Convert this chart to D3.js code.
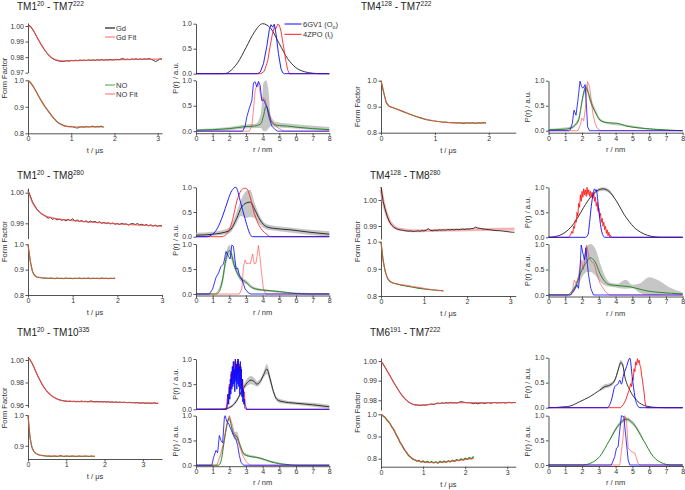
<!DOCTYPE html>
<html><head><meta charset="utf-8">
<script src="https://cdn.jsdelivr.net/npm/d3@7"></script>
<style>body{margin:0;background:#fff}</style>
</head><body><script>
// ---------------- DATA ----------------
const titles = {
  A: ["TM1","20"," - TM7","222"], B: ["TM4","128"," - TM7","222"],
  C: ["TM1","20"," - TM8","280"], D: ["TM4","128"," - TM8","280"],
  E: ["TM1","20"," - TM10","335"], F: ["TM6","191"," - TM7","222"]
};
const ffLegend = ["Gd","Gd Fit","NO","NO Fit"];
const prLegend = [["6GV1 (O","o",")"],["4ZPO (I","i",")"]];
const dt = 0.05; // time step of the DEER traces (µs)

// Panel A  TM1-TM7
const A_gd = [1.0006,1.0001,0.9982,0.9958,0.9932,0.9907,0.9883,0.9860,0.9840,0.9822,0.9806,0.9795,0.9786,0.9780,0.9776,0.9774,0.9772,0.9774,0.9777,0.9775,0.9779,0.9777,0.9780,0.9778,0.9781,0.9779,0.9781,0.9778,0.9782,0.9780,0.9782,0.9779,0.9783,0.9781,0.9784,0.9781,0.9783,0.9782,0.9785,0.9782,0.9784,0.9786,0.9783,0.9788,0.9790,0.9785,0.9787,0.9784,0.9788,0.9786,0.9789,0.9785,0.9788,0.9786,0.9789,0.9787,0.9790,0.9786,0.9780,0.9772,0.9778,0.9789,0.9787];
const A_gdfit = [[0,1.0003],[0.1,0.9982],[0.2,0.9933],[0.3,0.9884],[0.4,0.9841],[0.5,0.9807],[0.6,0.9788],[0.7,0.9779],[0.8,0.9776],[0.9,0.9776],[1.0,0.9777],[1.5,0.9780],[2.0,0.9783],[2.5,0.9785],[3.1,0.9787]];
const A_no = [1.000,0.993,0.982,0.969,0.954,0.939,0.925,0.911,0.899,0.888,0.877,0.866,0.856,0.847,0.840,0.835,0.831,0.828,0.826,0.825,0.826,0.824,0.821,0.820,0.824,0.825,0.823,0.826,0.824,0.825,0.827,0.824,0.826,0.825,0.827,0.823];
const A_nofit = [[0,1.0],[0.1,0.982],[0.2,0.954],[0.3,0.925],[0.4,0.899],[0.5,0.877],[0.6,0.856],[0.7,0.840],[0.8,0.831],[0.9,0.826],[1.0,0.825],[1.2,0.824],[1.75,0.824]];
const A_pr_top_gd = [[0,0],[1.5,0],[1.8,0.005],[2,0.04],[2.5,0.22],[3,0.52],[3.5,0.83],[4,1.0],[4.5,0.9],[5,0.6],[5.5,0.3],[6,0.12],[6.5,0.04],[7,0.01],[7.5,0],[8,0]];
const A_pr_top_blue = [[0,0],[3.7,0],[3.85,0.03],[4.05,0.2],[4.25,0.55],[4.4,0.88],[4.5,0.98],[4.6,0.93],[4.7,0.99],[4.8,0.8],[4.95,0.4],[5.1,0.1],[5.2,0.02],[5.3,0],[8,0]];
const A_pr_top_red = [[0,0],[3.9,0],[4.1,0.05],[4.3,0.25],[4.45,0.55],[4.6,0.82],[4.7,0.93],[4.8,0.9],[4.9,0.99],[5.0,0.97],[5.1,0.85],[5.25,0.55],[5.4,0.25],[5.5,0.08],[5.6,0],[8,0]];
const A_pr_bot_blue = [[0,0],[2.8,0],[2.95,0.1],[3.05,0.28],[3.2,0.45],[3.35,0.6],[3.45,0.95],[3.55,0.97],[3.65,0.87],[3.75,0.98],[3.85,0.9],[3.95,0.6],[4.05,0.62],[4.15,0.55],[4.25,0.48],[4.4,0.25],[4.55,0.1],[4.75,0.03],[4.9,0],[8,0]];
const A_pr_bot_red = [[0,0],[3.2,0],[3.35,0.1],[3.45,0.42],[3.55,0.8],[3.65,0.9],[3.75,0.94],[3.85,0.75],[3.95,0.62],[4.05,0.66],[4.15,0.62],[4.3,0.42],[4.5,0.22],[4.8,0.09],[5.1,0.03],[5.3,0],[8,0]];
const A_pr_bot_green = [[0,0.02],[1,0.03],[2,0.05],[3,0.09],[3.5,0.1],[3.9,0.15],[4.05,0.3],[4.2,0.49],[4.35,0.4],[4.5,0.2],[4.7,0.13],[5,0.11],[5.5,0.1],[6,0.08],[7,0.05],[8,0.03]];
const A_pr_bot_band = [[0,0,0.04],[2,0.02,0.08],[3,0.05,0.13],[3.6,0.06,0.15],[3.9,0.06,0.35],[4.05,0.0,0.95],[4.2,0.0,1.0],[4.35,0.05,0.8],[4.5,0.1,0.3],[4.8,0.08,0.18],[5.5,0.06,0.15],[6.5,0.04,0.12],[8,0.01,0.08]];

// Panel B  TM4-TM7
const B_no = [1.000,0.955,0.915,0.902,0.898,0.894,0.890,0.886,0.882,0.878,0.874,0.870,0.866,0.862,0.859,0.856,0.853,0.850,0.848,0.846,0.845,0.843,0.842,0.840,0.841,0.839,0.838,0.839,0.837,0.838,0.837,0.836,0.838,0.837,0.838,0.836,0.838,0.837,0.839,0.837];
const B_nofit = [[0,1.0],[0.05,0.955],[0.1,0.915],[0.15,0.902],[0.2,0.898],[0.4,0.882],[0.6,0.866],[0.8,0.853],[1.0,0.845],[1.2,0.840],[1.4,0.838],[1.95,0.837]];
const B_pr_blue = [[0,0],[1.2,0],[1.3,0.02],[1.42,0.15],[1.52,0.41],[1.64,0.31],[1.75,0.6],[1.88,0.99],[1.97,0.88],[2.05,0.85],[2.18,0.92],[2.27,0.45],[2.33,0.08],[2.44,0],[8,0]];
const B_pr_red = [[0,0],[1.75,0],[1.88,0.1],[1.99,0.25],[2.1,0.2],[2.2,0.45],[2.33,0.98],[2.45,0.88],[2.55,0.6],[2.64,0.35],[2.78,0.15],[2.9,0.05],[3.08,0],[8,0]];
const B_pr_green = [[0,0.02],[1,0.03],[1.3,0.05],[1.55,0.1],[1.8,0.22],[1.95,0.5],[2.09,0.75],[2.22,0.87],[2.35,0.78],[2.49,0.61],[2.78,0.38],[3.08,0.21],[3.48,0.16],[4.08,0.15],[4.68,0.09],[5.28,0.06],[6.27,0.03],[7.26,0.01],[8,0]];
const B_pr_band = [[0,0,0.04],[1.3,0.03,0.08],[1.8,0.17,0.28],[2.1,0.68,0.82],[2.25,0.8,0.93],[2.5,0.55,0.68],[2.8,0.33,0.43],[3.1,0.18,0.24],[3.5,0.14,0.18],[4.5,0.09,0.13],[6,0.02,0.05],[8,0,0.01]];

// Panel C  TM1-TM8
const C_gd = [1.0008,0.9990,0.9970,0.9958,0.9946,0.9938,0.9931,0.9927,0.9922,0.9917,0.9919,0.9913,0.9916,0.9911,0.9914,0.9910,0.9912,0.9908,0.9913,0.9909,0.9915,0.9907,0.9911,0.9906,0.9909,0.9905,0.9908,0.9903,0.9907,0.9904,0.9906,0.9902,0.9905,0.9900,0.9903,0.9899,0.9902,0.9898,0.9901,0.9897,0.9899,0.9896,0.9900,0.9897,0.9898,0.9894,0.9898,0.9899,0.9896,0.9899,0.9895,0.9897,0.9893,0.9896,0.9892,0.9895,0.9891,0.9894,0.9890,0.9893,0.9891];
const C_gdfit = [[0,1.0005],[0.05,0.9985],[0.1,0.9967],[0.2,0.9945],[0.3,0.9932],[0.4,0.9924],[0.6,0.9916],[0.8,0.9912],[1.0,0.9909],[1.5,0.9903],[2.0,0.9898],[2.5,0.9894],[3.0,0.9891]];
const C_no = [1.000,0.935,0.893,0.877,0.871,0.869,0.868,0.866,0.867,0.865,0.867,0.866,0.864,0.867,0.865,0.866,0.864,0.867,0.865,0.866,0.864,0.866,0.865,0.867,0.864,0.866,0.865,0.867,0.864,0.866,0.865,0.866,0.864,0.867,0.865,0.866,0.864,0.866,0.865,0.867];
const C_nofit = [[0,1.0],[0.05,0.935],[0.1,0.893],[0.15,0.877],[0.2,0.871],[0.3,0.868],[0.5,0.866],[1.95,0.8655]];
const C_pr_top_gd = [[0,0.03],[1,0.05],[2,0.12],[2.44,0.37],[2.74,0.6],[3.0,0.68],[3.24,0.7],[3.54,0.54],[3.84,0.34],[4.24,0.2],[4.64,0.17],[5.64,0.14],[6.84,0.09],[8,0.05]];
const C_pr_top_band = [[0,0,0.08],[1,0.02,0.1],[2,0.07,0.18],[2.4,0.25,0.47],[2.7,0.42,0.75],[3.0,0.38,0.92],[3.25,0.4,0.95],[3.5,0.38,0.7],[3.8,0.26,0.44],[4.2,0.15,0.26],[4.7,0.12,0.22],[5.5,0.09,0.19],[6.5,0.05,0.15],[8,0.0,0.11]];
const C_pr_top_blue = [[0,0],[0.7,0],[0.85,0.02],[1.0,0.05],[1.3,0.18],[1.6,0.42],[1.9,0.72],[2.1,0.9],[2.3,0.99],[2.4,1.0],[2.5,0.93],[2.64,0.74],[2.94,0.37],[3.14,0.14],[3.3,0.02],[3.4,0],[8,0]];
const C_pr_top_red = [[0,0],[1.5,0],[1.8,0.04],[2.0,0.14],[2.2,0.35],[2.45,0.72],[2.7,0.93],[2.9,0.98],[3.05,0.97],[3.25,0.8],[3.5,0.47],[3.8,0.22],[4.2,0.06],[4.5,0],[8,0]];
const C_pr_bot_blue = [[0,0],[0.8,0],[1.0,0.1],[1.2,0.33],[1.35,0.42],[1.5,0.55],[1.65,0.6],[1.8,0.85],[1.95,0.75],[2.05,0.7],[2.15,0.98],[2.25,0.95],[2.4,0.5],[2.5,0.52],[2.6,0.38],[2.75,0.3],[2.95,0.1],[3.15,0.02],[3.3,0],[8,0]];
const C_pr_bot_red = [[0,0],[2.6,0],[2.75,0.1],[2.85,0.55],[2.95,0.68],[3.05,0.6],[3.15,0.62],[3.25,0.6],[3.4,0.8],[3.5,0.6],[3.6,0.62],[3.75,0.97],[3.85,0.7],[3.95,0.38],[4.05,0.1],[4.2,0],[8,0]];
const C_pr_bot_green = [[0,0],[1.2,0],[1.4,0.05],[1.6,0.3],[1.8,0.7],[2.0,0.87],[2.1,0.82],[2.3,0.56],[2.5,0.4],[2.7,0.3],[2.95,0.25],[3.25,0.15],[3.6,0.1],[4.0,0.08],[5.0,0.05],[6.0,0.01],[7,0],[8,0]];
const C_pr_bot_band = [[1.2,0,0.02],[1.6,0.2,0.38],[1.8,0.58,0.82],[2.0,0.78,0.98],[2.2,0.6,0.8],[2.4,0.42,0.6],[2.7,0.25,0.35],[3.0,0.2,0.28],[3.5,0.08,0.14],[4.5,0.04,0.08],[6,0,0.03],[8,0,0.01]];

// Panel D  TM4-TM8
const D_gd = [1.0050,0.9995,0.9962,0.9935,0.9915,0.9903,0.9895,0.9890,0.9887,0.9885,0.9884,0.9882,0.9881,0.9880,0.9881,0.9879,0.9880,0.9881,0.9880,0.9882,0.9881,0.9884,0.9890,0.9883,0.9882,0.9884,0.9883,0.9885,0.9884,0.9885,0.9884,0.9886,0.9885,0.9886,0.9885,0.9887,0.9886,0.9887,0.9888,0.9887,0.9889,0.9888,0.9890,0.9891,0.9896,0.9892,0.9891,0.9889,0.9888,0.9887,0.9886,0.9885,0.9884,0.9883,0.9882,0.9882,0.9881,0.9880,0.9879,0.9878,0.9877,0.9876,0.9876];
const D_gdfit = [[0,1.004],[0.05,0.9995],[0.1,0.9962],[0.15,0.9937],[0.2,0.9918],[0.3,0.9898],[0.4,0.9889],[0.6,0.9884],[0.8,0.9882],[1.2,0.9883],[1.8,0.9885],[2.4,0.9887],[3.1,0.9888]];
const D_no = [1.000,0.930,0.890,0.866,0.855,0.850,0.847,0.845,0.843,0.841,0.839,0.838,0.836,0.835,0.833,0.832,0.831,0.829,0.828,0.827,0.826,0.825,0.824,0.823,0.822,0.822,0.821,0.820,0.820,0.819];
const D_nofit = [[0,1.0],[0.05,0.93],[0.1,0.89],[0.15,0.866],[0.2,0.855],[0.3,0.847],[0.5,0.841],[0.7,0.836],[1.0,0.828],[1.2,0.823],[1.45,0.819]];
const D_pr_top_gd = [[0,0],[0.3,0.01],[0.8,0.06],[1.3,0.19],[1.7,0.37],[2.1,0.6],[2.5,0.8],[2.9,0.93],[3.25,0.97],[3.6,0.92],[3.9,0.8],[4.2,0.64],[4.5,0.46],[4.8,0.32],[5.1,0.2],[5.5,0.1],[5.9,0.04],[6.3,0.01],[6.8,0],[8,0]];
const D_pr_top_band = [[2.5,0.78,0.82],[2.9,0.9,0.97],[3.25,0.93,1.0],[3.6,0.89,0.96],[3.9,0.78,0.82]];
const D_pr_top_red = [[0,0],[1.2,0],[1.3,0.04],[1.4,0.12],[1.45,0.08],[1.5,0.22],[1.55,0.18],[1.6,0.35],[1.65,0.3],[1.7,0.5],[1.75,0.42],[1.8,0.68],[1.85,0.6],[1.9,0.85],[1.95,0.72],[2.0,0.92],[2.05,0.8],[2.1,0.97],[2.15,0.85],[2.2,0.95],[2.25,0.82],[2.3,1.0],[2.35,0.86],[2.4,0.95],[2.45,0.82],[2.5,0.92],[2.55,0.8],[2.6,0.9],[2.65,0.78],[2.7,0.88],[2.75,0.72],[2.8,0.8],[2.85,0.62],[2.9,0.7],[2.95,0.52],[3.0,0.58],[3.05,0.42],[3.1,0.48],[3.15,0.3],[3.2,0.38],[3.25,0.22],[3.3,0.3],[3.35,0.15],[3.4,0.22],[3.45,0.08],[3.5,0.15],[3.55,0.03],[3.6,0.1],[3.65,0.01],[3.7,0.04],[3.75,0],[8,0]];
const D_pr_top_blue = [[0,0],[2.2,0],[2.35,0.05],[2.45,0.3],[2.55,0.62],[2.65,0.85],[2.75,0.97],[2.8,0.93],[2.85,0.95],[2.95,0.7],[3.05,0.38],[3.15,0.15],[3.25,0.04],[3.35,0],[8,0]];
const D_pr_bot_blue = [[0,0],[1.3,0],[1.45,0.05],[1.59,0.13],[1.69,0.2],[1.79,0.13],[1.88,0.5],[1.95,0.98],[2.05,0.82],[2.15,0.69],[2.23,0.93],[2.32,0.6],[2.39,0.39],[2.52,0.13],[2.68,0],[8,0]];
const D_pr_bot_red = [[0,0],[1.35,0],[1.45,0.12],[1.53,0.29],[1.65,0.22],[1.79,0.36],[1.93,0.69],[2.08,0.5],[2.2,0.75],[2.28,0.98],[2.42,0.72],[2.58,0.65],[2.72,0.62],[2.88,0.42],[3.07,0.23],[3.37,0.07],[3.63,0],[8,0]];
const D_pr_bot_green = [[0,0],[1.1,0],[1.29,0.03],[1.69,0.23],[1.99,0.49],[2.28,0.65],[2.48,0.73],[2.78,0.65],[3.07,0.42],[3.37,0.26],[3.67,0.2],[4.27,0.18],[4.86,0.16],[5.26,0.13],[5.86,0.08],[6.66,0.05],[8,0.02]];
const D_pr_bot_band = [[1.3,0.0,0.05],[1.7,0.15,0.3],[2.0,0.35,0.65],[2.3,0.45,0.95],[2.5,0.45,1.0],[2.8,0.38,0.9],[3.1,0.25,0.6],[3.4,0.18,0.35],[3.7,0.16,0.24],[4.1,0.14,0.22],[4.6,0.12,0.3],[5.0,0.13,0.2],[5.4,0.05,0.22],[6.0,0.0,0.35],[6.6,0.0,0.28],[7.2,0.02,0.15],[8,0.0,0.05]];

// Panel E  TM1-TM10
const E_gd = [1.0025,1.0005,0.9975,0.9940,0.9900,0.9862,0.9828,0.9795,0.9766,0.9741,0.9720,0.9702,0.9687,0.9674,0.9664,0.9655,0.9648,0.9643,0.9639,0.9636,0.9634,0.9631,0.9634,0.9630,0.9633,0.9629,0.9632,0.9630,0.9635,0.9631,0.9633,0.9629,0.9632,0.9636,0.9631,0.9629,0.9632,0.9628,0.9631,0.9627,0.9630,0.9626,0.9629,0.9625,0.9628,0.9624,0.9627,0.9623,0.9626,0.9622,0.9625,0.9623,0.9621,0.9624,0.9620,0.9622,0.9619,0.9621,0.9618,0.9617,0.9620,0.9616,0.9615,0.9618,0.9614,0.9616,0.9620,0.9613,0.9615];
const E_gdfit = [[0,1.002],[0.1,0.9975],[0.2,0.990],[0.3,0.9828],[0.4,0.9766],[0.5,0.972],[0.6,0.9687],[0.7,0.9664],[0.8,0.9648],[0.9,0.9639],[1.0,0.9634],[1.5,0.963],[2.0,0.9627],[2.5,0.9622],[3.0,0.9618],[3.4,0.9616]];
const E_no = [1.000,0.930,0.896,0.882,0.876,0.872,0.870,0.869,0.868,0.867,0.866,0.867,0.865,0.866,0.867,0.865,0.866,0.868,0.866,0.865,0.867,0.866,0.865,0.867,0.866,0.865,0.866,0.867,0.865,0.866,0.867,0.866,0.865,0.867,0.866,0.866];
const E_nofit = [[0,1.0],[0.05,0.93],[0.1,0.896],[0.15,0.882],[0.2,0.876],[0.3,0.87],[0.5,0.867],[1.75,0.866]];
const E_pr_top_gd = [[0,0],[1.5,0.0],[1.8,0.01],[2.1,0.05],[2.4,0.15],[2.7,0.33],[3.0,0.5],[3.3,0.58],[3.5,0.55],[3.65,0.5],[3.85,0.55],[4.05,0.68],[4.25,0.8],[4.45,0.6],[4.65,0.35],[4.85,0.2],[5.1,0.16],[6,0.12],[7,0.09],[8,0.05]];
const E_pr_top_band = [[0,0,0.01],[1.5,0,0.02],[2.1,0.03,0.08],[2.4,0.12,0.19],[2.7,0.29,0.38],[3.0,0.44,0.58],[3.3,0.5,0.66],[3.5,0.48,0.62],[3.65,0.45,0.56],[3.85,0.5,0.6],[4.05,0.62,0.74],[4.25,0.7,0.9],[4.45,0.52,0.68],[4.65,0.3,0.4],[4.85,0.16,0.24],[5.1,0.12,0.2],[6,0.09,0.15],[7,0.05,0.13],[8,0.01,0.09]];
const E_pr_top_red = [[0,0],[1.8,0],[1.85,0.1],[1.9,0.3],[1.95,0.2],[2.0,0.5],[2.05,0.35],[2.1,0.7],[2.15,0.5],[2.2,0.85],[2.25,0.6],[2.3,0.95],[2.35,0.65],[2.4,0.9],[2.45,0.6],[2.5,1.0],[2.55,0.7],[2.6,0.9],[2.65,0.55],[2.7,0.85],[2.75,0.45],[2.8,0.6],[2.85,0.3],[2.9,0.35],[2.95,0.1],[3.0,0.05],[3.05,0],[8,0]];
const E_pr_top_blue = [[0,0],[1.85,0],[1.9,0.15],[1.93,0.3],[1.96,0.1],[2.0,0.45],[2.03,0.2],[2.06,0.6],[2.09,0.3],[2.12,0.75],[2.15,0.4],[2.18,0.85],[2.21,0.45],[2.24,0.95],[2.27,0.5],[2.3,0.8],[2.33,0.35],[2.36,1.0],[2.39,0.55],[2.42,0.9],[2.45,0.4],[2.48,0.95],[2.51,0.5],[2.54,1.0],[2.57,0.45],[2.6,0.85],[2.63,0.3],[2.66,0.95],[2.69,0.4],[2.72,0.8],[2.75,0.25],[2.78,0.6],[2.81,0.15],[2.84,0.4],[2.87,0.1],[2.9,0.2],[2.94,0.02],[3.0,0],[8,0]];
const E_pr_bot_blue = [[0,0],[0.95,0],[1.05,0.15],[1.2,0.3],[1.3,0.25],[1.4,0.6],[1.5,0.5],[1.6,0.45],[1.7,0.95],[1.75,1.0],[1.85,0.88],[1.95,0.85],[2.1,0.72],[2.25,0.6],[2.4,0.52],[2.5,0.4],[2.6,0.2],[2.7,0.06],[2.85,0],[8,0]];
const E_pr_bot_red = [[0,0],[1.25,0],[1.45,0.2],[1.65,0.45],[1.85,0.85],[2.0,1.0],[2.15,0.85],[2.3,0.65],[2.45,0.58],[2.6,0.4],[2.8,0.2],[3.0,0.08],[3.2,0.01],[3.3,0],[8,0]];
const E_pr_bot_green = [[0,0],[1.35,0],[1.5,0.08],[1.7,0.5],[1.85,0.8],[2.0,0.95],[2.15,0.75],[2.3,0.6],[2.45,0.58],[2.65,0.4],[2.9,0.22],[3.2,0.18],[3.6,0.16],[3.9,0.14],[4.4,0.08],[5.0,0.03],[5.6,0.01],[6,0],[8,0]];
const E_pr_bot_band = [[1.35,0,0.01],[1.7,0.45,0.55],[2.0,0.9,1.0],[2.15,0.7,0.8],[2.3,0.52,0.66],[2.45,0.5,0.68],[2.65,0.35,0.45],[2.9,0.19,0.25],[3.6,0.14,0.18],[4.4,0.06,0.1],[5.6,0,0.02]];

// Panel F  TM6-TM7
const F_gd = [1.0000,0.9985,0.9967,0.9948,0.9930,0.9911,0.9892,0.9874,0.9856,0.9840,0.9825,0.9812,0.9801,0.9792,0.9785,0.9780,0.9777,0.9776,0.9775,0.9774,0.9776,0.9775,0.9777,0.9779,0.9781,0.9778,0.9783,0.9786,0.9784,0.9787,0.9785,0.9788,0.9786,0.9789,0.9787,0.9788,0.9786,0.9790,0.9793,0.9791,0.9789,0.9787,0.9788,0.9785,0.9783,0.9786,0.9782,0.9785,0.9787,0.9784,0.9786,0.9788,0.9785,0.9787,0.9789,0.9786,0.9788,0.9787,0.9789,0.9786,0.9788,0.9790,0.9787,0.9789,0.9788];
const F_gdfit = [[0,1.0],[0.1,0.9967],[0.2,0.993],[0.3,0.9892],[0.4,0.9856],[0.5,0.9825],[0.6,0.9801],[0.7,0.9785],[0.8,0.9777],[0.9,0.9775],[1.0,0.9776],[1.2,0.978],[1.5,0.9785],[2.0,0.9788],[3.2,0.9788]];
const F_no = [1.000,0.992,0.985,0.972,0.962,0.945,0.932,0.912,0.895,0.874,0.860,0.842,0.830,0.815,0.808,0.798,0.795,0.789,0.792,0.785,0.790,0.783,0.788,0.782,0.787,0.781,0.786,0.780,0.788,0.783,0.789,0.784,0.791,0.786,0.793,0.788,0.796,0.791,0.799,0.794,0.802,0.797,0.805,0.800,0.810];
const F_nofit = [[0,1.0],[0.1,0.985],[0.2,0.962],[0.3,0.932],[0.4,0.895],[0.5,0.86],[0.6,0.83],[0.7,0.808],[0.8,0.795],[0.9,0.788],[1.0,0.785],[1.2,0.783],[1.4,0.784],[1.6,0.787],[1.8,0.791],[2.0,0.796],[2.2,0.80]];
const F_pr_top_gd = [[0,0],[0.5,0.005],[1.0,0.02],[1.26,0.03],[1.86,0.12],[2.46,0.22],[3.05,0.35],[3.35,0.42],[3.65,0.45],[3.95,0.55],[4.15,0.75],[4.3,0.9],[4.4,0.88],[4.55,0.62],[4.85,0.35],[5.25,0.15],[5.85,0.03],[6.45,0.005],[7,0],[8,0]];
const F_pr_top_band = [[3.05,0.32,0.38],[3.35,0.38,0.47],[3.65,0.41,0.49],[3.95,0.51,0.58],[4.15,0.7,0.8],[4.3,0.85,0.96],[4.4,0.83,0.93],[4.55,0.58,0.66]];
const F_pr_top_blue = [[0,0],[3.5,0],[3.75,0.15],[3.95,0.42],[4.15,0.48],[4.25,0.55],[4.35,0.47],[4.45,0.62],[4.65,0.82],[4.85,0.99],[4.99,0.62],[5.15,0.22],[5.35,0.02],[5.45,0],[8,0]];
const F_pr_top_red = [[0,0],[4.3,0],[4.45,0.06],[4.6,0.15],[4.7,0.25],[4.8,0.35],[4.9,0.48],[4.95,0.42],[5.0,0.6],[5.05,0.55],[5.1,0.78],[5.15,0.72],[5.2,0.92],[5.25,0.85],[5.3,0.98],[5.35,0.9],[5.4,0.95],[5.45,0.85],[5.5,0.8],[5.55,0.65],[5.6,0.55],[5.65,0.42],[5.7,0.3],[5.75,0.12],[5.8,0.04],[5.85,0],[8,0]];
const F_pr_bot_green = [[0,0],[2.06,0],[2.46,0.03],[3.05,0.17],[3.65,0.51],[4.25,0.84],[4.65,0.93],[5.05,0.84],[5.65,0.51],[6.25,0.17],[6.85,0.03],[7.25,0],[8,0]];
const F_pr_bot_band = [[3.65,0.48,0.54],[4.25,0.8,0.88],[4.65,0.89,0.97],[5.05,0.8,0.88],[5.65,0.48,0.54]];
const F_pr_bot_blue = [[0,0],[3.75,0],[3.95,0.17],[4.05,0.34],[4.15,0.37],[4.25,0.71],[4.35,1.0],[4.49,0.98],[4.61,0.57],[4.75,0.1],[4.85,0],[8,0]];
const F_pr_bot_red = [[0,0],[4.25,0],[4.45,0.57],[4.55,1.0],[4.65,0.91],[4.75,0.34],[4.95,0.27],[5.15,0.24],[5.35,0.03],[5.45,0],[8,0]];

const ffTicks2 = [0.8,0.9,1.0];
const prTicksY = [0.0,0.5,1.0];
const prTicksX = [0,1,2,3,4,5,6,7,8];

// ---------------- DRAWING ----------------
const FONT = '"Liberation Sans", Arial, Helvetica, sans-serif';
const TICKFONT = 7;
const COL = {gd:"#1e1e1e", fit:"#ff4a4a", no:"#268a26", blue:"#0a0aff", red:"#ff1a1a", band:"#bcbcbc", axis:"#404040", text:"#333"};
const svg = d3.select("body").append("svg").attr("width",685).attr("height",490)
  .style("font-family",FONT);

const series = (vals) => vals.map((v,i)=>[i*dt, v]);

function styleAxis(g){
  g.attr("font-family",FONT).attr("font-size",TICKFONT);
  g.select(".domain").attr("stroke",COL.axis).attr("stroke-width",0.9);
  g.selectAll(".tick line").attr("stroke",COL.axis).attr("stroke-width",0.9);
  g.selectAll(".tick text").attr("fill",COL.text);
}
function yAxis(y, x0, ticks, fmt){
  const g = svg.append("g").attr("transform",`translate(${x0},0)`)
    .call(d3.axisLeft(y).tickValues(ticks).tickFormat(d3.format(fmt)).tickSize(2.5).tickSizeOuter(0).tickPadding(1.5));
  styleAxis(g);
}
function xAxis(x, y0, ticks){
  const g = svg.append("g").attr("transform",`translate(0,${y0})`)
    .call(d3.axisBottom(x).tickValues(ticks).tickFormat(d3.format("d")).tickSize(2.5).tickSizeOuter(0).tickPadding(0.5));
  styleAxis(g);
}
function ln(data, x, y, color, w, op, curve){
  svg.append("path").datum(data).attr("fill","none").attr("stroke",color)
    .attr("stroke-width",w).attr("stroke-opacity",op).attr("stroke-linejoin","round")
    .attr("d", d3.line().x(d=>x(d[0])).y(d=>y(d[1])).curve(curve||d3.curveLinear));
}
function band(data, x, y){
  svg.append("path").datum(data).attr("fill",COL.band).attr("fill-opacity",0.85)
    .attr("d", d3.area().x(d=>x(d[0])).y0(d=>y(d[1])).y1(d=>y(d[2])).curve(d3.curveMonotoneX));
}
function title(x, y, parts){
  const t = svg.append("text").attr("x",x).attr("y",y).attr("font-size",10).attr("fill","#222");
  parts.forEach((p,i)=>{
    const sup = i%2===1;
    t.append("tspan").text(p).attr("font-size", sup?6.5:10).attr("dy", sup?-3.8:(i>0?3.8:0));
  });
}
function vlabel(x, y, s){
  svg.append("text").attr("transform",`translate(${x},${y}) rotate(-90)`).attr("text-anchor","middle")
    .attr("dy","0.35em").attr("font-size",7.5).attr("fill",COL.text).text(s);
}
function hlabel(x, y, s){
  svg.append("text").attr("x",x).attr("y",y).attr("text-anchor","middle")
    .attr("font-size",7.5).attr("fill",COL.text).text(s);
}

const mono = d3.curveMonotoneX;

function panel(cfg){
  title(cfg.tx, cfg.ty, cfg.title);
  // ---- Form factor plot
  const xf = d3.scaleLinear().domain(cfg.ffDom).range(cfg.ffX);
  cfg.ff.forEach(s=>{
    const y = d3.scaleLinear().domain(s.dom).range(s.r);
    yAxis(y, cfg.ffX[0], s.ticks, s.fmt);
    s.lines.forEach(l=>ln(l.d, xf, y, l.c, l.w, l.o, l.curve));
  });
  const ffBase = cfg.ff[cfg.ff.length-1].r[0];
  xAxis(xf, ffBase, cfg.ffTicks);
  hlabel((cfg.ffX[0]+cfg.ffX[1])/2, ffBase+20, "t / μs");
  const ffTop = cfg.ff[0].r[1];
  vlabel(cfg.ffX[0]-24, (ffTop+ffBase)/2, "Form Factor");
  // ---- Distance distribution plot
  const xp = d3.scaleLinear().domain([0,8]).range(cfg.prX);
  cfg.pr.forEach(s=>{
    const y = d3.scaleLinear().domain(s.dom).range(s.r);
    yAxis(y, cfg.prX[0], prTicksY, ".1f");
    (s.bands||[]).forEach(b=>band(b, xp, y));
    s.lines.forEach(l=>ln(l.d, xp, y, l.c, l.w, l.o, l.curve));
    if (s.label) vlabel(cfg.prX[0]-21, (s.r[0]+s.r[1])/2, "P(r) / a.u.");
  });
  const prBase = cfg.pr[cfg.pr.length-1].r[0];
  xAxis(xp, prBase, prTicksX);
  if (cfg.prLabel) vlabel(cfg.prX[0]-21, cfg.prLabel, "P(r) / a.u.");
  hlabel((cfg.prX[0]+cfg.prX[1])/2, prBase+19, "r / nm");
}

const L = (d,c,w,o,curve)=>({d,c,w,o,curve});
const FFX_L=[28,162], PRX_L=[196,329.3], FFX_R=[381,515.7], PRX_R=[548.5,682.7];

// A
panel({title:titles.A, tx:17, ty:10, ffX:FFX_L, ffDom:[0,3.1], ffTicks:[0,1,2,3], prX:PRX_L, prLabel:78,
  ff:[{dom:[0.97,1.002], r:[72.7,22.9], ticks:[0.97,0.98,0.99,1.00], fmt:".2f",
        lines:[L(series(A_gd),COL.gd,0.9,1), L(A_gdfit,COL.fit,1.2,0.75,mono)]},
      {dom:[0.8,1.0], r:[133.3,80.3], ticks:ffTicks2, fmt:".1f",
        lines:[L(series(A_no),COL.no,1.1,1), L(A_nofit,COL.fit,1.2,0.7,mono)]}],
  pr:[{dom:[0,1], r:[73.7,23.7], lines:[L(A_pr_top_gd,COL.gd,0.9,1,mono),L(A_pr_top_red,COL.red,1,0.85),L(A_pr_top_blue,COL.blue,1,0.9)]},
      {dom:[-0.04,1], r:[133.2,80.3], bands:[A_pr_bot_band], lines:[L(A_pr_bot_green,COL.no,1,1,mono),L(A_pr_bot_red,COL.red,1,0.5),L(A_pr_bot_blue,COL.blue,1,0.8)]}]
});
// B
panel({title:titles.B, tx:361, ty:10, ffX:FFX_R, ffDom:[0,2.5], ffTicks:[0,1,2], prX:PRX_R,
  ff:[{dom:[0.8,1.0], r:[132.7,80.7], ticks:ffTicks2, fmt:".1f",
        lines:[L(series(B_no),COL.no,1.1,1), L(B_nofit,COL.fit,1.2,0.7,mono)]}],
  pr:[{dom:[-0.04,1], r:[132.7,80.7], label:true, bands:[B_pr_band], lines:[L(B_pr_green,COL.no,1,1,mono),L(B_pr_red,COL.red,1,0.5),L(B_pr_blue,COL.blue,1,0.8)]}]
});
// C
panel({title:titles.C, tx:17, ty:179, ffX:FFX_L, ffDom:[0,3], ffTicks:[0,1,2,3], prX:PRX_L, prLabel:240,
  ff:[{dom:[0.985,1.0015], r:[238.6,188.1], ticks:[0.99,1.00], fmt:".2f",
        lines:[L(series(C_gd),COL.gd,0.9,1), L(C_gdfit,COL.fit,1.2,0.75,mono)]},
      {dom:[0.8,1.0], r:[295,244.3], ticks:ffTicks2, fmt:".1f",
        lines:[L(series(C_no),COL.no,1.1,1), L(C_nofit,COL.fit,1.2,0.7,mono)]}],
  pr:[{dom:[0,1], r:[236.7,187.3], bands:[C_pr_top_band], lines:[L(C_pr_top_gd,COL.gd,0.9,1,mono),L(C_pr_top_red,COL.red,1,0.85,mono),L(C_pr_top_blue,COL.blue,1,0.9,mono)]},
      {dom:[-0.03,1], r:[295.5,244], bands:[C_pr_bot_band], lines:[L(C_pr_bot_green,COL.no,1,1,mono),L(C_pr_bot_red,COL.red,1,0.5),L(C_pr_bot_blue,COL.blue,1,0.8)]}]
});
// D
panel({title:titles.D, tx:370, ty:179, ffX:FFX_R, ffDom:[0,3.13], ffTicks:[0,1,2,3], prX:PRX_R,
  ff:[{dom:[0.985,1.005], r:[239,187], ticks:[0.99,1.00], fmt:".2f",
        lines:[L(D_gdfit,"#f5a0a0",3,0.8,mono), L(series(D_gd),COL.gd,0.9,1)]},
      {dom:[0.8,1.0], r:[296,241.7], ticks:ffTicks2, fmt:".1f",
        lines:[L(series(D_no),COL.no,1.1,1), L(D_nofit,COL.fit,1.2,0.7,mono)]}],
  pr:[{dom:[0,1], r:[237.3,187.3], label:true, bands:[D_pr_top_band], lines:[L(D_pr_top_gd,COL.gd,0.9,1,mono),L(D_pr_top_red,COL.red,1,0.9),L(D_pr_top_blue,COL.blue,1,0.9,mono)]},
      {dom:[-0.03,1], r:[296.5,244], label:true, bands:[D_pr_bot_band], lines:[L(D_pr_bot_green,COL.no,1,1,mono),L(D_pr_bot_red,COL.red,1,0.5),L(D_pr_bot_blue,COL.blue,1,0.8)]}]
});
// E
panel({title:titles.E, tx:17, ty:335.5, ffX:FFX_L, ffDom:[0,3.5], ffTicks:[0,1,2,3], prX:PRX_L,
  ff:[{dom:[0.958,1.003], r:[407.25,356.6], ticks:[0.96,0.98,1.00], fmt:".2f",
        lines:[L(series(E_gd),COL.gd,0.9,1), L(E_gdfit,COL.fit,1.2,0.75,mono)]},
      {dom:[0.857,1.0], r:[459,415], ticks:[0.9,1.0], fmt:".1f",
        lines:[L(series(E_no),COL.no,1.1,1), L(E_nofit,COL.fit,1.2,0.7,mono)]}],
  pr:[{dom:[0,1], r:[409.3,359], label:true, bands:[E_pr_top_band], lines:[L(E_pr_top_gd,COL.gd,0.9,1,mono),L(E_pr_top_red,COL.red,1,0.9),L(E_pr_top_blue,COL.blue,1,0.9)]},
      {dom:[-0.02,1], r:[466.2,415.7], label:true, bands:[E_pr_bot_band], lines:[L(E_pr_bot_green,COL.no,1,1,mono),L(E_pr_bot_red,COL.red,1,0.5),L(E_pr_bot_blue,COL.blue,1,0.8)]}]
});
// F
panel({title:titles.F, tx:370, ty:335.5, ffX:FFX_R, ffDom:[0,3.2], ffTicks:[0,1,2,3], prX:PRX_R,
  ff:[{dom:[0.975,1.0015], r:[410.1,358.1], ticks:[0.98,0.99,1.00], fmt:".2f",
        lines:[L(series(F_gd),COL.gd,0.9,1), L(F_gdfit,COL.fit,1.2,0.75,mono)]},
      {dom:[0.764,1.0], r:[466.7,414.3], ticks:ffTicks2, fmt:".1f",
        lines:[L(series(F_no),COL.no,1.3,1), L(F_nofit,COL.fit,1.2,0.75,mono)]}],
  pr:[{dom:[0,1], r:[407.7,357.7], label:true, bands:[F_pr_top_band], lines:[L(F_pr_top_gd,COL.gd,0.9,1,mono),L(F_pr_top_red,COL.red,1,0.9),L(F_pr_top_blue,COL.blue,1,0.9,mono)]},
      {dom:[-0.02,1], r:[466,415.7], label:true, bands:[F_pr_bot_band], lines:[L(F_pr_bot_green,COL.no,1,1,mono),L(F_pr_bot_red,COL.red,1,0.5),L(F_pr_bot_blue,COL.blue,1,0.8)]}]
});

// ---- legends (panel A)
const legFF = [[ffLegend[0],COL.gd,1,28],[ffLegend[1],COL.fit,0.7,37],[ffLegend[2],COL.no,0.7,85],[ffLegend[3],COL.fit,0.7,94]];
legFF.forEach(([s,c,o,y])=>{
  svg.append("line").attr("x1",105).attr("x2",115).attr("y1",y).attr("y2",y).attr("stroke",c).attr("stroke-opacity",o).attr("stroke-width",1.2);
  svg.append("text").attr("x",116).attr("y",y).attr("dy","0.35em").attr("font-size",7.5).attr("fill",COL.text).text(s);
});
const legPR = [[prLegend[0],COL.blue,24],[prLegend[1],COL.red,34.3]];
legPR.forEach(([p,c,y])=>{
  svg.append("line").attr("x1",284.5).attr("x2",301.5).attr("y1",y).attr("y2",y).attr("stroke",c).attr("stroke-width",1);
  const t = svg.append("text").attr("x",303).attr("y",y).attr("dy","0.35em").attr("font-size",7.5).attr("fill",COL.text);
  t.append("tspan").text(p[0]);
  t.append("tspan").text(p[1]).attr("font-size",5).attr("dy",2);
  t.append("tspan").text(p[2]).attr("dy",-2);
});
</script></body></html>
